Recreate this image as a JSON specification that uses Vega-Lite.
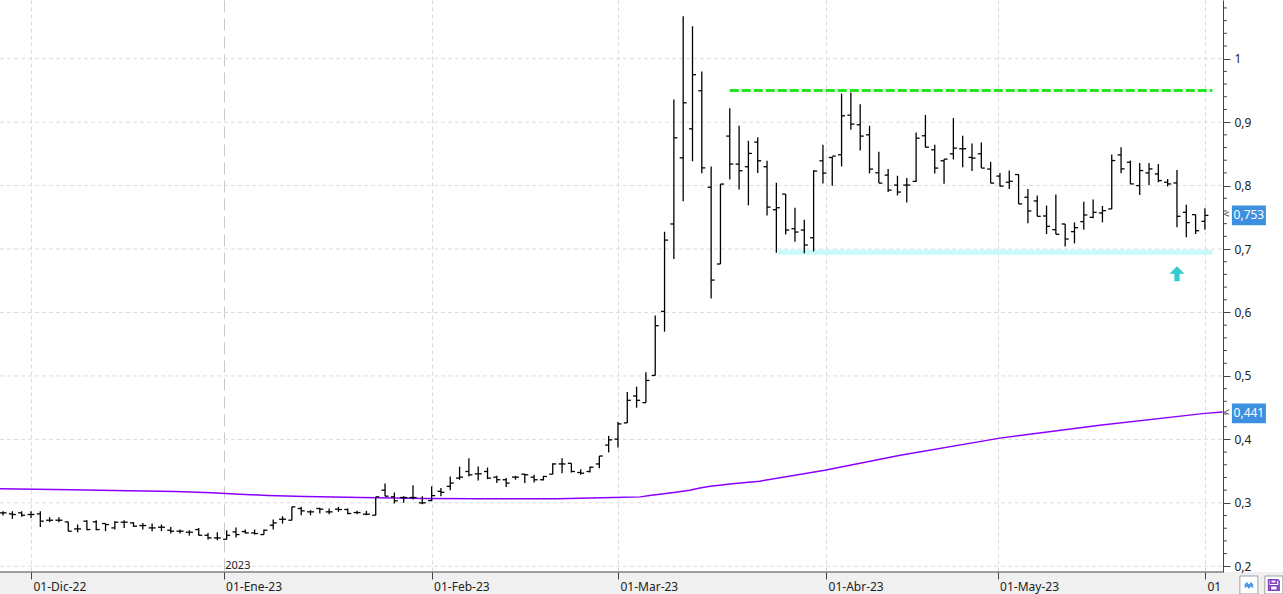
{
  "$schema": "https://vega.github.io/schema/vega-lite/v6.json",
  "width": 1283,
  "height": 572,
  "autosize": {"type": "none"},
  "padding": {"left": 0, "top": 0, "right": 0, "bottom": 22},
  "background": "#f0f0f0",
  "config": {
    "view": {"fill": "white", "stroke": null},
    "font": "Noto Sans",
    "axis": {"labelOverlap": false}
  },
  "datasets": {
    "ohlc": [
      {"i": -3, "o": 0.2842, "h": 0.2868, "l": 0.2800, "c": 0.2842},
      {"i": -2, "o": 0.2826, "h": 0.2868, "l": 0.2747, "c": 0.2816},
      {"i": -1, "o": 0.2842, "h": 0.2868, "l": 0.2779, "c": 0.2805},
      {"i": 0, "o": 0.2816, "h": 0.2868, "l": 0.2763, "c": 0.2816},
      {"i": 1, "o": 0.2826, "h": 0.2868, "l": 0.2621, "c": 0.2711},
      {"i": 2, "o": 0.2726, "h": 0.2774, "l": 0.2695, "c": 0.2726},
      {"i": 3, "o": 0.2726, "h": 0.2774, "l": 0.2695, "c": 0.2726},
      {"i": 4, "o": 0.2700, "h": 0.2700, "l": 0.2553, "c": 0.2553},
      {"i": 5, "o": 0.2589, "h": 0.2658, "l": 0.2537, "c": 0.2589},
      {"i": 6, "o": 0.2711, "h": 0.2726, "l": 0.2568, "c": 0.2579},
      {"i": 7, "o": 0.2700, "h": 0.2726, "l": 0.2568, "c": 0.2579},
      {"i": 8, "o": 0.2674, "h": 0.2674, "l": 0.2553, "c": 0.2658},
      {"i": 9, "o": 0.2605, "h": 0.2711, "l": 0.2579, "c": 0.2695},
      {"i": 10, "o": 0.2695, "h": 0.2726, "l": 0.2605, "c": 0.2695},
      {"i": 11, "o": 0.2684, "h": 0.2695, "l": 0.2621, "c": 0.2632},
      {"i": 12, "o": 0.2642, "h": 0.2684, "l": 0.2579, "c": 0.2642},
      {"i": 13, "o": 0.2605, "h": 0.2674, "l": 0.2553, "c": 0.2605},
      {"i": 14, "o": 0.2616, "h": 0.2658, "l": 0.2553, "c": 0.2616},
      {"i": 15, "o": 0.2568, "h": 0.2621, "l": 0.2516, "c": 0.2553},
      {"i": 16, "o": 0.2553, "h": 0.2579, "l": 0.2516, "c": 0.2553},
      {"i": 17, "o": 0.2537, "h": 0.2568, "l": 0.2484, "c": 0.2537},
      {"i": 18, "o": 0.2579, "h": 0.2605, "l": 0.2484, "c": 0.2489},
      {"i": 19, "o": 0.2489, "h": 0.2526, "l": 0.2421, "c": 0.2447},
      {"i": 20, "o": 0.2447, "h": 0.2537, "l": 0.2411, "c": 0.2447},
      {"i": 21, "o": 0.2426, "h": 0.2568, "l": 0.2421, "c": 0.2489},
      {"i": 22, "o": 0.2542, "h": 0.2611, "l": 0.2453, "c": 0.2500},
      {"i": 23, "o": 0.2547, "h": 0.2579, "l": 0.2516, "c": 0.2526},
      {"i": 24, "o": 0.2526, "h": 0.2579, "l": 0.2500, "c": 0.2516},
      {"i": 25, "o": 0.2500, "h": 0.2579, "l": 0.2500, "c": 0.2568},
      {"i": 26, "o": 0.2647, "h": 0.2737, "l": 0.2579, "c": 0.2684},
      {"i": 27, "o": 0.2742, "h": 0.2789, "l": 0.2674, "c": 0.2742},
      {"i": 28, "o": 0.2726, "h": 0.2937, "l": 0.2726, "c": 0.2937},
      {"i": 29, "o": 0.2911, "h": 0.2937, "l": 0.2805, "c": 0.2874},
      {"i": 30, "o": 0.2858, "h": 0.2884, "l": 0.2805, "c": 0.2858},
      {"i": 31, "o": 0.2911, "h": 0.2921, "l": 0.2832, "c": 0.2900},
      {"i": 32, "o": 0.2858, "h": 0.2911, "l": 0.2821, "c": 0.2858},
      {"i": 33, "o": 0.2900, "h": 0.2937, "l": 0.2858, "c": 0.2895},
      {"i": 34, "o": 0.2895, "h": 0.2911, "l": 0.2821, "c": 0.2832},
      {"i": 35, "o": 0.2847, "h": 0.2874, "l": 0.2821, "c": 0.2847},
      {"i": 36, "o": 0.2821, "h": 0.2874, "l": 0.2805, "c": 0.2821},
      {"i": 37, "o": 0.2805, "h": 0.3095, "l": 0.2805, "c": 0.3095},
      {"i": 38, "o": 0.3200, "h": 0.3305, "l": 0.3105, "c": 0.3105},
      {"i": 39, "o": 0.3095, "h": 0.3163, "l": 0.2990, "c": 0.3032},
      {"i": 40, "o": 0.3084, "h": 0.3105, "l": 0.3000, "c": 0.3084},
      {"i": 41, "o": 0.3084, "h": 0.3279, "l": 0.3053, "c": 0.3084},
      {"i": 42, "o": 0.3000, "h": 0.3105, "l": 0.2979, "c": 0.3000},
      {"i": 43, "o": 0.3036, "h": 0.3260, "l": 0.3026, "c": 0.3114},
      {"i": 44, "o": 0.3182, "h": 0.3234, "l": 0.3104, "c": 0.3166},
      {"i": 45, "o": 0.3260, "h": 0.3416, "l": 0.3197, "c": 0.3312},
      {"i": 46, "o": 0.3390, "h": 0.3571, "l": 0.3364, "c": 0.3405},
      {"i": 47, "o": 0.3494, "h": 0.3701, "l": 0.3416, "c": 0.3442},
      {"i": 48, "o": 0.3457, "h": 0.3571, "l": 0.3353, "c": 0.3457},
      {"i": 49, "o": 0.3494, "h": 0.3556, "l": 0.3374, "c": 0.3390},
      {"i": 50, "o": 0.3405, "h": 0.3426, "l": 0.3312, "c": 0.3364},
      {"i": 51, "o": 0.3364, "h": 0.3390, "l": 0.3250, "c": 0.3312},
      {"i": 52, "o": 0.3405, "h": 0.3426, "l": 0.3364, "c": 0.3405},
      {"i": 53, "o": 0.3452, "h": 0.3457, "l": 0.3312, "c": 0.3442},
      {"i": 54, "o": 0.3405, "h": 0.3442, "l": 0.3322, "c": 0.3364},
      {"i": 55, "o": 0.3364, "h": 0.3426, "l": 0.3353, "c": 0.3416},
      {"i": 56, "o": 0.3452, "h": 0.3623, "l": 0.3452, "c": 0.3613},
      {"i": 57, "o": 0.3613, "h": 0.3701, "l": 0.3468, "c": 0.3613},
      {"i": 58, "o": 0.3623, "h": 0.3623, "l": 0.3478, "c": 0.3494},
      {"i": 59, "o": 0.3478, "h": 0.3530, "l": 0.3442, "c": 0.3468},
      {"i": 60, "o": 0.3494, "h": 0.3571, "l": 0.3478, "c": 0.3561},
      {"i": 61, "o": 0.3613, "h": 0.3738, "l": 0.3545, "c": 0.3738},
      {"i": 62, "o": 0.3910, "h": 0.4056, "l": 0.3795, "c": 0.3993},
      {"i": 63, "o": 0.4004, "h": 0.4276, "l": 0.3873, "c": 0.4244},
      {"i": 64, "o": 0.4260, "h": 0.4746, "l": 0.4260, "c": 0.4616},
      {"i": 65, "o": 0.4684, "h": 0.4830, "l": 0.4500, "c": 0.4616},
      {"i": 66, "o": 0.4579, "h": 0.5060, "l": 0.4579, "c": 0.4929},
      {"i": 67, "o": 0.5008, "h": 0.5954, "l": 0.5008, "c": 0.5792},
      {"i": 68, "o": 0.6017, "h": 0.7272, "l": 0.5698, "c": 0.7141},
      {"i": 69, "o": 0.7395, "h": 0.9358, "l": 0.6842, "c": 0.8753},
      {"i": 70, "o": 0.8437, "h": 1.0668, "l": 0.7753, "c": 0.9305},
      {"i": 71, "o": 0.8895, "h": 1.0511, "l": 0.8384, "c": 0.9747},
      {"i": 72, "o": 0.9495, "h": 0.9800, "l": 0.8195, "c": 0.8279},
      {"i": 73, "o": 0.7974, "h": 0.8300, "l": 0.6221, "c": 0.6511},
      {"i": 74, "o": 0.6764, "h": 0.8024, "l": 0.6764, "c": 0.8024},
      {"i": 75, "o": 0.8780, "h": 0.9220, "l": 0.8097, "c": 0.8339},
      {"i": 76, "o": 0.8339, "h": 0.8942, "l": 0.7940, "c": 0.8234},
      {"i": 77, "o": 0.8297, "h": 0.8706, "l": 0.7688, "c": 0.8507},
      {"i": 78, "o": 0.8685, "h": 0.8759, "l": 0.8197, "c": 0.8391},
      {"i": 79, "o": 0.8297, "h": 0.8391, "l": 0.7530, "c": 0.7661},
      {"i": 80, "o": 0.7620, "h": 0.8045, "l": 0.6942, "c": 0.7651},
      {"i": 81, "o": 0.7866, "h": 0.7866, "l": 0.7231, "c": 0.7299},
      {"i": 82, "o": 0.7320, "h": 0.7651, "l": 0.7115, "c": 0.7268},
      {"i": 83, "o": 0.7299, "h": 0.7462, "l": 0.6932, "c": 0.7063},
      {"i": 84, "o": 0.7178, "h": 0.8244, "l": 0.6963, "c": 0.8228},
      {"i": 85, "o": 0.8391, "h": 0.8643, "l": 0.8034, "c": 0.8197},
      {"i": 86, "o": 0.8443, "h": 0.8454, "l": 0.7997, "c": 0.8465},
      {"i": 87, "o": 0.8486, "h": 0.9451, "l": 0.8302, "c": 0.9100},
      {"i": 88, "o": 0.9110, "h": 0.9467, "l": 0.8879, "c": 0.8969},
      {"i": 89, "o": 0.8958, "h": 0.9283, "l": 0.8554, "c": 0.8780},
      {"i": 90, "o": 0.8800, "h": 0.8942, "l": 0.8192, "c": 0.8260},
      {"i": 91, "o": 0.8202, "h": 0.8533, "l": 0.8039, "c": 0.8039},
      {"i": 92, "o": 0.8165, "h": 0.8260, "l": 0.7898, "c": 0.7929},
      {"i": 93, "o": 0.8008, "h": 0.8155, "l": 0.7845, "c": 0.7898},
      {"i": 94, "o": 0.8008, "h": 0.8118, "l": 0.7735, "c": 0.8008},
      {"i": 95, "o": 0.8066, "h": 0.8837, "l": 0.8055, "c": 0.8748},
      {"i": 96, "o": 0.8785, "h": 0.9115, "l": 0.8601, "c": 0.8606},
      {"i": 97, "o": 0.8564, "h": 0.8643, "l": 0.8192, "c": 0.8276},
      {"i": 98, "o": 0.8391, "h": 0.8417, "l": 0.8029, "c": 0.8417},
      {"i": 99, "o": 0.8501, "h": 0.9063, "l": 0.8412, "c": 0.8591},
      {"i": 100, "o": 0.8580, "h": 0.8785, "l": 0.8291, "c": 0.8580},
      {"i": 101, "o": 0.8444, "h": 0.8664, "l": 0.8228, "c": 0.8433},
      {"i": 102, "o": 0.8501, "h": 0.8680, "l": 0.8276, "c": 0.8276},
      {"i": 103, "o": 0.8260, "h": 0.8375, "l": 0.8039, "c": 0.8039},
      {"i": 104, "o": 0.8150, "h": 0.8197, "l": 0.7987, "c": 0.7992},
      {"i": 105, "o": 0.8053, "h": 0.8237, "l": 0.7947, "c": 0.8068},
      {"i": 106, "o": 0.8174, "h": 0.8174, "l": 0.7711, "c": 0.7711},
      {"i": 107, "o": 0.7816, "h": 0.7947, "l": 0.7405, "c": 0.7600},
      {"i": 108, "o": 0.7758, "h": 0.7842, "l": 0.7516, "c": 0.7516},
      {"i": 109, "o": 0.7521, "h": 0.7684, "l": 0.7237, "c": 0.7358},
      {"i": 110, "o": 0.7305, "h": 0.7858, "l": 0.7232, "c": 0.7232},
      {"i": 111, "o": 0.7395, "h": 0.7395, "l": 0.7042, "c": 0.7158},
      {"i": 112, "o": 0.7274, "h": 0.7421, "l": 0.7089, "c": 0.7337},
      {"i": 113, "o": 0.7432, "h": 0.7747, "l": 0.7305, "c": 0.7537},
      {"i": 114, "o": 0.7500, "h": 0.7779, "l": 0.7484, "c": 0.7579},
      {"i": 115, "o": 0.7568, "h": 0.7679, "l": 0.7421, "c": 0.7605},
      {"i": 116, "o": 0.7632, "h": 0.8489, "l": 0.7632, "c": 0.8395},
      {"i": 117, "o": 0.8484, "h": 0.8605, "l": 0.8195, "c": 0.8263},
      {"i": 118, "o": 0.8368, "h": 0.8395, "l": 0.8026, "c": 0.8026},
      {"i": 119, "o": 0.8000, "h": 0.8358, "l": 0.7853, "c": 0.8237},
      {"i": 120, "o": 0.8200, "h": 0.8358, "l": 0.8011, "c": 0.8263},
      {"i": 121, "o": 0.8184, "h": 0.8342, "l": 0.8053, "c": 0.8079},
      {"i": 122, "o": 0.8053, "h": 0.8105, "l": 0.7984, "c": 0.8026},
      {"i": 123, "o": 0.8042, "h": 0.8247, "l": 0.7342, "c": 0.7516},
      {"i": 124, "o": 0.7579, "h": 0.7700, "l": 0.7184, "c": 0.7416},
      {"i": 125, "o": 0.7542, "h": 0.7542, "l": 0.7237, "c": 0.7289},
      {"i": 126, "o": 0.7437, "h": 0.7642, "l": 0.7305, "c": 0.7530}
    ],
    "ma": [
      {"i": -3.4, "v": 0.3221},
      {"i": 0.4, "v": 0.3213},
      {"i": 4.4, "v": 0.3205},
      {"i": 10.4, "v": 0.3189},
      {"i": 15.5, "v": 0.3179},
      {"i": 19.4, "v": 0.3158},
      {"i": 22.4, "v": 0.3137},
      {"i": 25.4, "v": 0.3116},
      {"i": 29.4, "v": 0.3100},
      {"i": 35.4, "v": 0.3084},
      {"i": 42.3, "v": 0.3070},
      {"i": 48, "v": 0.3063},
      {"i": 56.5, "v": 0.3063},
      {"i": 62.5, "v": 0.3083},
      {"i": 65.4, "v": 0.3094},
      {"i": 66.4, "v": 0.3115},
      {"i": 67.5, "v": 0.3136},
      {"i": 69.2, "v": 0.3167},
      {"i": 70.7, "v": 0.3199},
      {"i": 71.8, "v": 0.3235},
      {"i": 72.9, "v": 0.3261},
      {"i": 73.9, "v": 0.3277},
      {"i": 75.0, "v": 0.3298},
      {"i": 78.2, "v": 0.3340},
      {"i": 85.2, "v": 0.3514},
      {"i": 93.3, "v": 0.3750},
      {"i": 104, "v": 0.4020},
      {"i": 114.7, "v": 0.4224},
      {"i": 126, "v": 0.4410},
      {"i": 127.9, "v": 0.4430}
    ],
    "grid": [
      {"g": 0.2}, {"g": 0.3}, {"g": 0.4}, {"g": 0.5}, {"g": 0.6},
      {"g": 0.7}, {"g": 0.8}, {"g": 0.9}, {"g": 1.0}
    ],
    "minor": [
      {"m": 0.22}, {"m": 0.24}, {"m": 0.26}, {"m": 0.28},
      {"m": 0.32}, {"m": 0.34}, {"m": 0.36}, {"m": 0.38},
      {"m": 0.42}, {"m": 0.44}, {"m": 0.46}, {"m": 0.48},
      {"m": 0.52}, {"m": 0.54}, {"m": 0.56}, {"m": 0.58},
      {"m": 0.62}, {"m": 0.64}, {"m": 0.66}, {"m": 0.68},
      {"m": 0.72}, {"m": 0.74}, {"m": 0.76}, {"m": 0.78},
      {"m": 0.82}, {"m": 0.84}, {"m": 0.86}, {"m": 0.88},
      {"m": 0.92}, {"m": 0.94}, {"m": 0.96}, {"m": 0.98},
      {"m": 1.02}, {"m": 1.04}, {"m": 1.06}, {"m": 1.08}
    ],
    "tags": [
      {"v": 0.753, "t": "0,753"},
      {"v": 0.441, "t": "0,441"}
    ],
    "buttons": [
      {"b": "chart", "p": 130.72},
      {"b": "save", "p": 133.4}
    ]
  },
  "layer": [
    {
      "data": {"name": "grid"},
      "mark": {"type": "rule", "color": "#dcdcdc", "strokeDash": [4, 3], "strokeWidth": 1},
      "encoding": {
        "x": {
          "datum": -3.327,
          "type": "quantitative",
          "scale": {"domain": [-3.327, 134.38], "nice": false, "zero": false},
          "axis": {
            "values": [0, 20.667, 43, 63, 85.333, 103.75, 126],
            "labelExpr": "datum.value < 10 ? '01-Dic-22' : datum.value < 30 ? '01-Ene-23' : datum.value < 50 ? '01-Feb-23' : datum.value < 70 ? '01-Mar-23' : datum.value < 90 ? '01-Abr-23' : datum.value < 110 ? '01-May-23' : '01'",
            "title": null,
            "domain": false,
            "grid": true,
            "gridColor": {"condition": {"test": "datum.value > 20 && datum.value < 21", "value": "#c8c8c8"}, "value": "#dcdcdc"},
            "gridDash": {"condition": {"test": "datum.value > 20 && datum.value < 21", "value": [12, 6]}, "value": [4, 3]},
            "ticks": true,
            "tickSize": 7,
            "tickColor": "#444",
            "labelAlign": "left",
            "labelBaseline": "top",
            "labelPadding": 2,
            "labelOffset": 2,
            "labelFontSize": 12,
            "labelColor": "#222",
            "labelFlush": false,
            "labelOverlap": false
          }
        },
        "x2": {"datum": 127.93},
        "y": {
          "field": "g",
          "type": "quantitative",
          "scale": {"domain": [0.191, 1.0925], "nice": false, "zero": false},
          "axis": {
            "orient": "right",
            "offset": -60,
            "title": null,
            "grid": false,
            "values": [0.2, 0.3, 0.4, 0.5, 0.6, 0.7, 0.8, 0.9, 1.0],
            "labelExpr": "replace(format(datum.value, '.1~f'), '.', ',')",
            "tickSize": 7,
            "tickColor": "#444",
            "domainColor": "#444",
            "labelAlign": "left",
            "labelPadding": 4,
            "labelFontSize": 12,
            "labelColor": "#222",
            "labelFlush": false,
            "labelOverlap": false
          }
        }
      }
    },
    {
      "data": {"name": "minor"},
      "mark": {"type": "rule", "color": "#444", "strokeWidth": 1, "x2Offset": 4},
      "encoding": {
        "x": {"datum": 127.93, "type": "quantitative"},
        "x2": {"datum": 127.93},
        "y": {"field": "m", "type": "quantitative"}
      }
    },
    {
      "data": {"values": [{}]},
      "mark": {"type": "rule", "color": "#444", "strokeWidth": 1},
      "encoding": {
        "x": {"datum": -3.327, "type": "quantitative"},
        "x2": {"datum": 127.93},
        "y": {"datum": 0.191, "type": "quantitative"}
      }
    },
    {
      "data": {"name": "ma"},
      "mark": {"type": "line", "color": "#8a00ff", "strokeWidth": 1.5},
      "encoding": {
        "x": {"field": "i", "type": "quantitative"},
        "y": {"field": "v", "type": "quantitative"}
      }
    },
    {
      "data": {"values": [{}]},
      "mark": {"type": "rule", "color": "#c8fafa", "strokeWidth": 5},
      "encoding": {
        "x": {"datum": 80.2, "type": "quantitative"},
        "x2": {"datum": 126.8},
        "y": {"datum": 0.695, "type": "quantitative"}
      }
    },
    {
      "data": {"values": [{}]},
      "mark": {"type": "rule", "color": "#1ee81e", "strokeWidth": 3, "strokeDash": [9, 3]},
      "encoding": {
        "x": {"datum": 75, "type": "quantitative"},
        "x2": {"datum": 126.8},
        "y": {"datum": 0.95, "type": "quantitative"}
      }
    },
    {
      "data": {"name": "ohlc"},
      "mark": {"type": "rule", "color": "black", "strokeWidth": 1.3},
      "encoding": {
        "x": {"field": "i", "type": "quantitative"},
        "y": {"field": "l", "type": "quantitative"},
        "y2": {"field": "h"}
      }
    },
    {
      "data": {"name": "ohlc"},
      "mark": {"type": "rule", "color": "black", "strokeWidth": 1.3, "xOffset": -3.5, "x2Offset": 0},
      "encoding": {
        "x": {"field": "i", "type": "quantitative"},
        "x2": {"field": "i"},
        "y": {"field": "o", "type": "quantitative"}
      }
    },
    {
      "data": {"name": "ohlc"},
      "mark": {"type": "rule", "color": "black", "strokeWidth": 1.3, "xOffset": 0, "x2Offset": 3.5},
      "encoding": {
        "x": {"field": "i", "type": "quantitative"},
        "x2": {"field": "i"},
        "y": {"field": "c", "type": "quantitative"}
      }
    },
    {
      "data": {"values": [{}]},
      "mark": {"type": "point", "filled": true, "opacity": 1, "color": "#33cccc", "size": 225, "shape": "M0,-1 L1,0 L0.35,0 L0.35,1 L-0.35,1 L-0.35,0 L-1,0 Z"},
      "encoding": {
        "x": {"datum": 123, "type": "quantitative"},
        "y": {"datum": 0.661, "type": "quantitative"}
      }
    },
    {
      "data": {"name": "tags"},
      "mark": {"type": "point", "filled": true, "opacity": 1, "color": "#3d8fe0", "size": 1156, "shape": "M-1,-0.58 L1,-0.58 L1,0.58 L-1,0.58 Z"},
      "encoding": {
        "x": {"datum": 130.72, "type": "quantitative"},
        "y": {"field": "v", "type": "quantitative"}
      }
    },
    {
      "data": {"name": "tags"},
      "mark": {"type": "text", "color": "white", "fontSize": 12, "align": "center", "baseline": "middle"},
      "encoding": {
        "x": {"datum": 130.72, "type": "quantitative"},
        "y": {"field": "v", "type": "quantitative"},
        "text": {"field": "t"}
      }
    },
    {
      "data": {"name": "tags"},
      "mark": {"type": "text", "color": "#444", "fontSize": 11, "align": "center", "baseline": "middle", "text": "<"},
      "encoding": {
        "x": {"datum": 128.3, "type": "quantitative"},
        "y": {"field": "v", "type": "quantitative"}
      }
    },
    {
      "data": {"values": [{}]},
      "mark": {"type": "text", "color": "#222", "fontSize": 11, "align": "left", "baseline": "bottom", "text": "2023"},
      "encoding": {
        "x": {"datum": 20.85, "type": "quantitative"},
        "y": {"datum": 0.1925, "type": "quantitative"}
      }
    },
    {
      "data": {"name": "buttons"},
      "mark": {"type": "point", "shape": "square", "size": 324, "filled": true, "opacity": 1, "color": "white", "stroke": "#a0a0a0", "strokeWidth": 1},
      "encoding": {
        "x": {"field": "p", "type": "quantitative"},
        "y": {"datum": 0.1705, "type": "quantitative"}
      }
    },
    {
      "data": {"name": "buttons"},
      "transform": [{"filter": "datum.b == 'chart'"}],
      "mark": {"type": "point", "shape": "M-0.7,0.1 L-0.35,-0.35 L0,0.1 L0.35,-0.35 L0.7,0.1 M-0.7,0.45 L-0.35,0 L0,0.45 L0.35,0 L0.7,0.45", "size": 144, "filled": false, "opacity": 1, "color": "#3d8fe0", "strokeWidth": 1.2},
      "encoding": {
        "x": {"field": "p", "type": "quantitative"},
        "y": {"datum": 0.1705, "type": "quantitative"}
      }
    },
    {
      "data": {"name": "buttons"},
      "transform": [{"filter": "datum.b == 'save'"}],
      "mark": {"type": "point", "shape": "M-0.75,-0.75 L0.55,-0.75 L0.75,-0.55 L0.75,0.75 L-0.75,0.75 Z M-0.45,-0.75 L-0.45,-0.25 L0.35,-0.25 L0.35,-0.75 M-0.5,0.1 L0.5,0.1 L0.5,0.75 L-0.5,0.75 Z", "size": 196, "filled": false, "opacity": 1, "color": "#8040c0", "strokeWidth": 1.6},
      "encoding": {
        "x": {"field": "p", "type": "quantitative"},
        "y": {"datum": 0.1705, "type": "quantitative"}
      }
    }
  ]
}
